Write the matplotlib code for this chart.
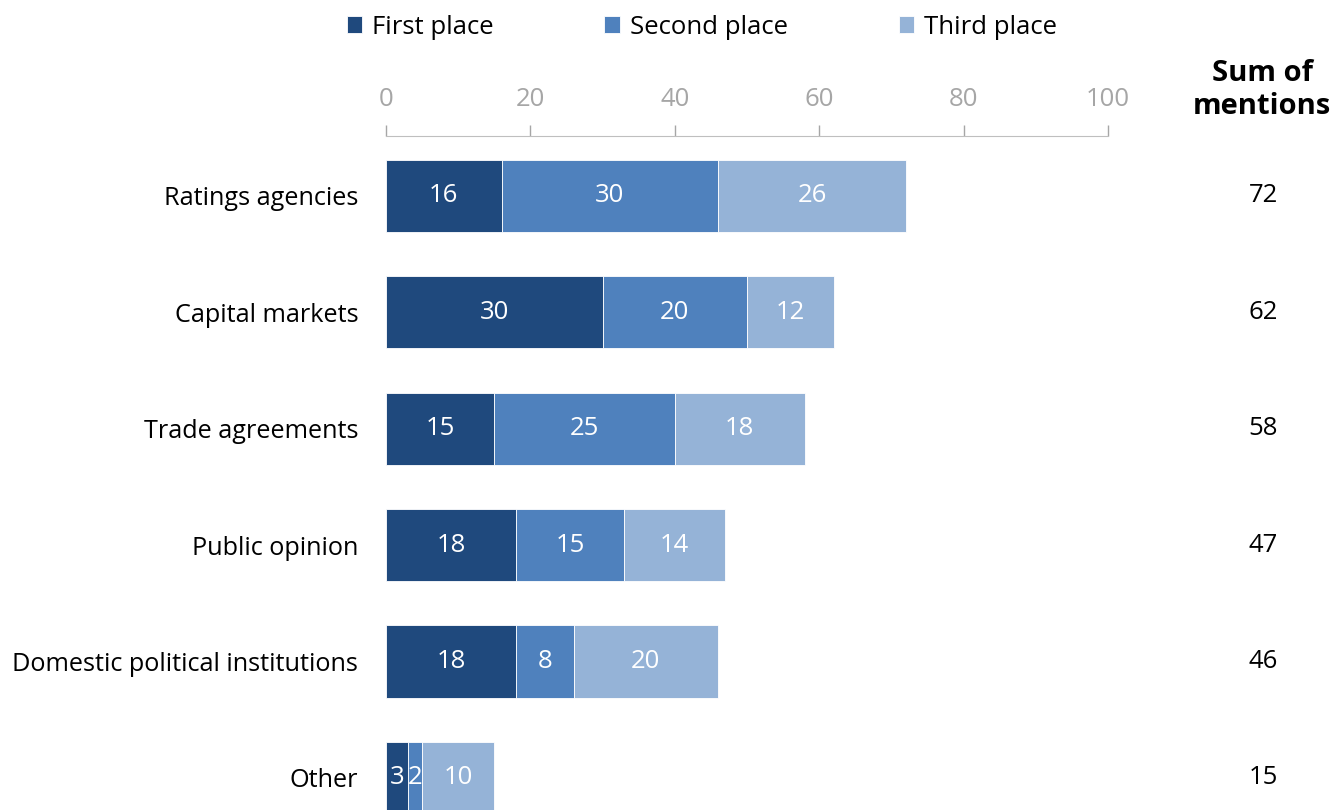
import matplotlib.pyplot as plt
import matplotlib.transforms as mtransforms
import numpy as np

plt.rcParams['font.family'] = ['Open Sans', 'DejaVu Sans']

categories = ['Ratings agencies', 'Capital markets', 'Trade agreements',
              'Public opinion', 'Domestic political institutions', 'Other']
first = [16, 30, 15, 18, 18, 3]
second = [30, 20, 25, 15, 8, 2]
third = [26, 12, 18, 14, 20, 10]
totals = [72, 62, 58, 47, 46, 15]
series_names = ['First place', 'Second place', 'Third place']
colors = ['#1f497d', '#4f81bd', '#95b3d7']

fig = plt.figure(figsize=(13.35, 8.1), dpi=100)
ax = fig.add_axes([386 / 1335, 0.0, (1108 - 386) / 1335, 1 - 136 / 810])

y = np.arange(len(categories))
left = np.zeros(len(categories))
for vals, name, col in zip([first, second, third], series_names, colors):
    vals = np.array(vals)
    ax.barh(y, vals, left=left, height=0.62, color=col, label=name,
            edgecolor='white', linewidth=0.6)
    for yi, l, v in zip(y, left, vals):
        ax.text(l + v / 2, yi, str(v), ha='center', va='center',
                color='white', fontsize=18.5)
    left += vals

ax.set_xlim(0, 100)
ax.set_ylim(5.275, -0.515)
ax.xaxis.tick_top()
ax.set_xticks(np.arange(0, 101, 20))
ax.tick_params(axis='x', colors='#a6a6a6', labelcolor='#a6a6a6',
               length=8, width=1, labelsize=18.5, pad=9)
ax.set_yticks(y)
ax.set_yticklabels(categories, fontsize=18.2)
ax.tick_params(axis='y', length=0, pad=20)
for s in ['right', 'bottom', 'left']:
    ax.spines[s].set_visible(False)
ax.spines['top'].set_color('#bfbfbf')

# sum column on the right
trans = mtransforms.blended_transform_factory(fig.transFigure, ax.transData)
for yi, t in zip(y, totals):
    ax.text(1263 / 1335, yi, str(t), transform=trans, ha='center',
            va='center', fontsize=18.5, clip_on=False)
fig.text(1262 / 1335, 1 - 90 / 810, 'Sum of\nmentions', ha='center',
         va='center', fontsize=21, fontweight='bold', linespacing=1.15)

fig.legend(loc='center', bbox_to_anchor=(702 / 1335, 1 - 27 / 810), ncol=3,
           frameon=False, fontsize=18.5, handlelength=0.6, handleheight=0.6,
           handletextpad=0.4, columnspacing=4.3)

fig.savefig('out.png', dpi=100)
